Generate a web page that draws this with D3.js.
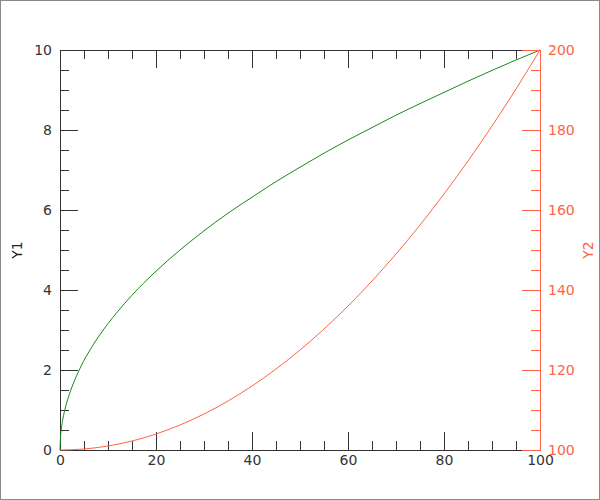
<!DOCTYPE html>
<html>
<head>
<meta charset="utf-8">
<script src="https://cdn.jsdelivr.net/npm/d3@7"></script>
<style>
  html, body { margin: 0; padding: 0; background: #fff; }
  svg { display: block; }
</style>
</head>
<body>
<svg id="chart" width="600" height="500"></svg>
<script>
// ---- data ----
const xValues1 = [0, 0.1, 0.25, 0.5, 1, 2, 3, 4, 5, 6, 8, 10, 12, 15, 20, 25, 30, 35, 40, 45, 50, 55, 60, 65, 70, 75, 80, 85, 90, 95, 100];
const y1Values = [0, 0.32, 0.5, 0.71, 1, 1.41, 1.73, 2, 2.24, 2.45, 2.83, 3.16, 3.46, 3.87, 4.47, 5, 5.48, 5.92, 6.32, 6.71, 7.07, 7.42, 7.75, 8.06, 8.37, 8.66, 8.94, 9.22, 9.49, 9.75, 10];
const xValues2 = [0, 5, 10, 15, 20, 25, 30, 35, 40, 45, 50, 55, 60, 65, 70, 75, 80, 85, 90, 95, 100];
const y2Values = [100, 100.25, 101, 102.25, 104, 106.25, 109, 112.25, 116, 120.25, 125, 130.25, 136, 142.25, 149, 156.25, 164, 172.25, 181, 190.25, 200];
const xMajorTicks = [0, 20, 40, 60, 80, 100];
const y1MajorTicks = [0, 2, 4, 6, 8, 10];
const y2MajorTicks = [100, 120, 140, 160, 180, 200];
const y1Label = "Y1";
const y2Label = "Y2";

const W = 600, H = 500;
const m = { left: 60, right: 60, top: 50, bottom: 50 };
const svg = d3.select("#chart");
const FONT = "DejaVu Sans, sans-serif";
const AXIS = "#333";
const RED = "#ff6347";
const GREEN = "#1a8a1a";

// outer border
svg.append("rect").attr("x", 0.5).attr("y", 0.5).attr("width", W - 1).attr("height", H - 1)
  .attr("fill", "#fff").attr("stroke", "#888").attr("stroke-width", 1);

const x = d3.scaleLinear().domain([0, 100]).range([m.left, W - m.right]);
const y1 = d3.scaleLinear().domain([0, 10]).range([H - m.bottom, m.top]);
const y2 = d3.scaleLinear().domain([100, 200]).range([H - m.bottom, m.top]);

const xMinor = d3.range(0, 101, 5).filter(v => !xMajorTicks.includes(v));
const y1Minor = d3.range(0, 10.01, 0.5).filter(v => !y1MajorTicks.includes(v));
const y2Minor = d3.range(100, 201, 5).filter(v => !y2MajorTicks.includes(v));

function style(g, color) {
  g.selectAll("g").attr("font-family", FONT).attr("font-size", 14);
  g.selectAll("path.domain").attr("stroke", color).attr("stroke-width", 1);
  g.selectAll("line").attr("stroke", color).attr("stroke-width", 1);
  g.selectAll("text").attr("fill", color).attr("font-family", FONT).attr("font-size", 14);
}

// bottom axis
const gxb = svg.append("g").attr("transform", `translate(0,${H - m.bottom})`);
gxb.append("g").call(d3.axisBottom(x).tickValues(xMinor).tickSize(-9).tickSizeOuter(0).tickFormat(""));
gxb.append("g").call(d3.axisBottom(x).tickValues(xMajorTicks).tickSize(-18).tickSizeOuter(0).tickPadding(5).tickFormat(d3.format("d")));
style(gxb, AXIS);

// top axis
const gxt = svg.append("g").attr("transform", `translate(0,${m.top})`);
gxt.append("g").call(d3.axisTop(x).tickValues(xMinor).tickSize(-9).tickSizeOuter(0).tickFormat(""));
gxt.append("g").call(d3.axisTop(x).tickValues(xMajorTicks).tickSize(-18).tickSizeOuter(0).tickFormat(""));
style(gxt, AXIS);

// left axis
const gyl = svg.append("g").attr("transform", `translate(${m.left},0)`);
gyl.append("g").call(d3.axisLeft(y1).tickValues(y1Minor).tickSize(-9).tickSizeOuter(0).tickFormat(""));
gyl.append("g").call(d3.axisLeft(y1).tickValues(y1MajorTicks).tickSize(-18).tickSizeOuter(0).tickPadding(8).tickFormat(d3.format("d")));
style(gyl, AXIS);

// lines
const line1 = d3.line().x((d, i) => x(xValues1[i])).y(d => y1(d)).curve(d3.curveMonotoneX);
const line2 = d3.line().x((d, i) => x(xValues2[i])).y(d => y2(d)).curve(d3.curveMonotoneX);
svg.append("path").datum(y2Values).attr("d", line2).attr("fill", "none").attr("stroke", RED).attr("stroke-width", 1);
svg.append("path").datum(y1Values).attr("d", line1).attr("fill", "none").attr("stroke", GREEN).attr("stroke-width", 1);

// right axis
const gyr = svg.append("g").attr("transform", `translate(${W - m.right},0)`);
gyr.append("g").call(d3.axisRight(y2).tickValues(y2Minor).tickSize(-9).tickSizeOuter(0).tickFormat(""));
gyr.append("g").call(d3.axisRight(y2).tickValues(y2MajorTicks).tickSize(-18).tickSizeOuter(0).tickPadding(8).tickFormat(d3.format("d")));
style(gyr, RED);

// axis titles
svg.append("text").attr("transform", `translate(22,${(m.top + H - m.bottom) / 2}) rotate(-90)`)
  .attr("text-anchor", "middle").attr("font-family", FONT).attr("font-size", 14).attr("fill", "#222").text(y1Label);
svg.append("text").attr("transform", `translate(593,${(m.top + H - m.bottom) / 2}) rotate(-90)`)
  .attr("text-anchor", "middle").attr("font-family", FONT).attr("font-size", 14).attr("fill", RED).text(y2Label);
</script>
</body>
</html>
